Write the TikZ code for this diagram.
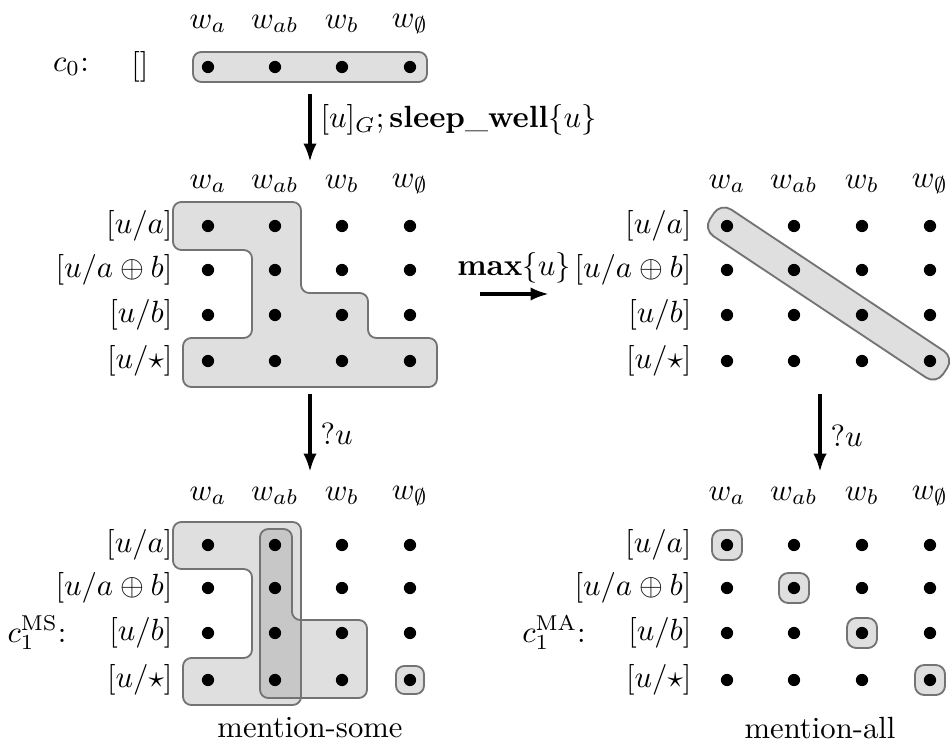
\documentclass[tikz,border=0pt]{standalone}
\usetikzlibrary{arrows.meta}
\begin{document}
\begin{tikzpicture}[x=0.326pt,y=-0.326pt,
  dot/.style={circle,fill=black,inner sep=0pt,minimum size=4pt},
  blob/.style={fill=black!50,fill opacity=0.25,draw=black!55,line width=0.6pt,rounded corners=2.7pt},
  flow/.style={line width=1.3pt,-{Latex[length=6pt,width=4.4pt]}},
  rowlab/.style={anchor=east,inner sep=0pt},
  collab/.style={inner sep=0pt}]
\useasboundingbox (0,0) rectangle (951,742);

% ---------- blobs ----------
\draw[blob] (193,52) rectangle (427,82);
\draw[blob] (173,202) -- (301,202) -- (301,293) -- (368,293) -- (368,338) -- (437,338)
  -- (437,387) -- (183,387) -- (183,338) -- (252,338) -- (252,250) -- (173,250) -- cycle;
\begin{scope}[shift={(727,226)},rotate=-33.62]
  \draw[blob,rounded corners=4pt] (-18,-16) rectangle (262,16);
\end{scope}
\draw[blob] (173,522) -- (301,522) -- (301,705) -- (183,705) -- (183,658) -- (252,658)
  -- (252,569) -- (173,569) -- cycle;
\draw[blob] (260,529) -- (292,529) -- (292,620) -- (367,620) -- (367,698) -- (260,698) -- cycle;
\draw[blob] (396,666) rectangle (424,694);
\foreach \c/\r in {727/545,794/588,862/633,930/680}
  \draw[blob,rounded corners=3pt] (\c-15,\r-15) rectangle (\c+15,\r+15);

% ---------- column labels ----------
\foreach \c [count=\i] in {208,275,342,410} {
  \node[collab] (tw-\i) at (\c,24) {$w_{\ifcase\i\or a\or ab\or b\or \emptyset\fi}$};
  \node[collab] (mw-\i) at (\c,184) {$w_{\ifcase\i\or a\or ab\or b\or \emptyset\fi}$};
  \node[collab] (bw-\i) at (\c,496) {$w_{\ifcase\i\or a\or ab\or b\or \emptyset\fi}$};
}
\foreach \c [count=\i] in {727,794,862,930} {
  \node[collab] (rw-\i) at (\c,184) {$w_{\ifcase\i\or a\or ab\or b\or \emptyset\fi}$};
  \node[collab] (sw-\i) at (\c,496) {$w_{\ifcase\i\or a\or ab\or b\or \emptyset\fi}$};
}

% ---------- row labels ----------
\foreach \r/\t [count=\j] in {226/{[u/a]},270/{[u/a\oplus b]},315/{[u/b]},361/{[u/\star]}} {
  \node[rowlab] (ml-\j) at (173,\r) {$\t$};
  \node[rowlab] (mr-\j) at (692,\r) {$\t$};
}
\foreach \r/\t [count=\j] in {545/{[u/a]},588/{[u/a\oplus b]},633/{[u/b]},680/{[u/\star]}} {
  \node[rowlab] (bl-\j) at (173,\r) {$\t$};
  \node[rowlab] (br-\j) at (692,\r) {$\t$};
}

% ---------- dots ----------
\foreach \c [count=\i] in {208,275,342,410}
  \node[dot] (t-\i) at (\c,67) {};
\foreach \r [count=\j] in {226,270,315,361}
  \foreach \c [count=\i] in {208,275,342,410}
    \node[dot] (m-\j-\i) at (\c,\r) {};
\foreach \r [count=\j] in {226,270,315,361}
  \foreach \c [count=\i] in {727,794,862,930}
    \node[dot] (r-\j-\i) at (\c,\r) {};
\foreach \r [count=\j] in {545,588,633,680}
  \foreach \c [count=\i] in {208,275,342,410}
    \node[dot] (b-\j-\i) at (\c,\r) {};
\foreach \r [count=\j] in {545,588,633,680}
  \foreach \c [count=\i] in {727,794,862,930}
    \node[dot] (s-\j-\i) at (\c,\r) {};

% ---------- context labels ----------
\node (c0) at (71,67) {$c_0$:};
\node (empty) at (140,67) {$[]$};
\node (cms) at (37,633) {$c_1^{\mathrm{MS}}$:};
\node (cma) at (554,633) {$c_1^{\mathrm{MA}}$:};
\node (ms) at (310,728) {mention-some};
\node (ma) at (820,728) {mention-all};

% ---------- arrows ----------
\coordinate (a1s) at (310,94);
\coordinate (a1e) at (310,162);
\draw[flow] (a1s) -- (a1e);
\node[anchor=west,inner sep=0pt] (l1) at (320,120) {$[u]_G;\mathbf{sleep\_well}\{u\}$};

\coordinate (a2s) at (480,294);
\coordinate (a2e) at (549,294);
\draw[flow] (a2s) -- (a2e);
\node (l2) at (514,268) {$\mathbf{max}\{u\}$};

\coordinate (a3s) at (310,394);
\coordinate (a3e) at (310,472);
\draw[flow] (a3s) -- (a3e);
\node[anchor=west,inner sep=0pt] (l3) at (320,434) {$?u$};

\coordinate (a4s) at (820,394);
\coordinate (a4e) at (820,472);
\draw[flow] (a4s) -- (a4e);
\node[anchor=west,inner sep=0pt] (l4) at (830,436) {$?u$};
\end{tikzpicture}
\end{document}
